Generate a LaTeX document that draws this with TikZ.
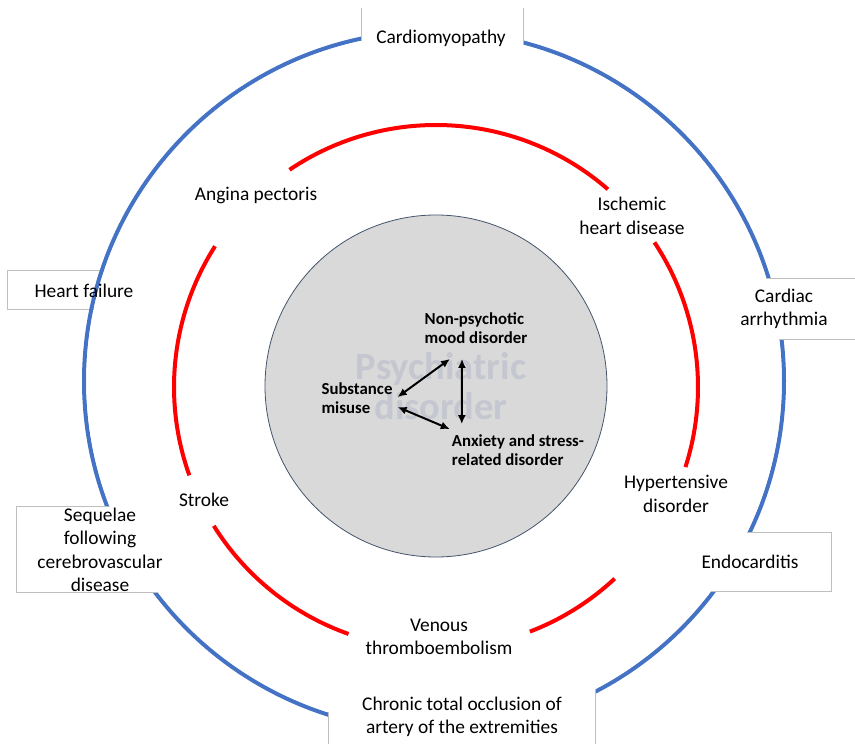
\documentclass[tikz,border=0pt]{standalone}
\usepackage{fontspec}
\setmainfont{Carlito}
\usetikzlibrary{arrows.meta}
\definecolor{ringblue}{RGB}{68,114,196}
\definecolor{ringred}{RGB}{255,0,0}
\definecolor{coregray}{RGB}{217,217,217}
\definecolor{coreline}{RGB}{68,84,106}
\definecolor{markgray}{RGB}{196,199,208}
\definecolor{boxline}{RGB}{191,191,191}

\tikzset{
  label/.style={align=center, inner sep=0pt, font=\fontsize{19.4}{23.5}\selectfont},
  core/.style={align=left, inner sep=0pt, font=\fontsize{16.8}{19.5}\selectfont\bfseries},
  tagbox/.style={fill=white, draw=boxline, line width=1pt},
  biarrow/.style={{Latex[length=9pt,width=8pt]}-{Latex[length=9pt,width=8pt]}, line width=2pt},
}

\begin{document}
\begin{tikzpicture}[x=1pt, y=-1pt]
\useasboundingbox (0,0) rectangle (855,744);

% box under the blue ring
\draw[tagbox] (7,270) rectangle (161,309);
% blue ring
\draw[ringblue, line width=4pt] (434,381) circle[radius=350];
% boxes over the blue ring
\fill[white] (361,8) rectangle (523,70);
\draw[boxline, line width=1pt] (361,70) -- (361,8) (523,8) -- (523,70);
\draw[tagbox] (713,278) rectangle (870,339);
\draw[tagbox] (669,532) rectangle (831,591);
\draw[tagbox] (328,680) rectangle (595,760);
\draw[tagbox] (16,506) rectangle (185,592);
\fill[white] (434,381) circle[radius=347.5];

% red ring, broken at the labels
\foreach \a/\b in {-124/-49, -33.5/17.8, 47/69, 109.5/148, 160.3/212.5}
  \draw[ringred, line width=4pt] (436,387) ++(\a:262) arc[start angle=\a, end angle=\b, radius=262];

% core
\draw[coreline, fill=coregray, line width=0.8pt] (436,386) circle[radius=171];
\node[font=\fontsize{38.5}{40}\selectfont\bfseries, text=markgray, align=center] (psy) at (441,386) {Psychiatric\\disorder};

\node[core] (mood) at (476,328) {Non-psychotic\\mood disorder};
\node[core] (subst) at (357,398) {Substance\\misuse};
\node[core] (anx) at (518,450) {Anxiety and stress-\\related disorder};

\draw[biarrow] ([xshift=-26pt,yshift=-15pt]mood.south) -- ([xshift=5pt,yshift=1pt]subst.east);
\draw[biarrow] ([xshift=5pt,yshift=-9pt]subst.east) -- ([xshift=-2pt,yshift=5pt]anx.north west);
\draw[biarrow] ([xshift=-14pt,yshift=-15pt]mood.south) -- ([xshift=10pt,yshift=10pt]anx.north west);

% red ring labels
\node[label] (ang) at (256,195) {Angina pectoris};
\node[label] (ihd) at (632,216) {Ischemic\\heart disease};
\node[label] (htn) at (676,494) {Hypertensive\\disorder};
\node[label] (stroke) at (204,500) {Stroke};
\node[label] (vte) at (439,637) {Venous\\thromboembolism};

% blue ring labels
\node[label] (cardio) at (441,38) {Cardiomyopathy};
\node[label] (hf) at (84,291) {Heart failure};
\node[label] (arrh) at (784,309) {Cardiac\\arrhythmia};
\node[label] (seq) at (100,550) {Sequelae\\following\\cerebrovascular\\disease};
\node[label] (endo) at (750,562) {Endocarditis};
\node[label] (cto) at (462,717) {Chronic total occlusion of\\artery of the extremities};
\end{tikzpicture}
\end{document}
